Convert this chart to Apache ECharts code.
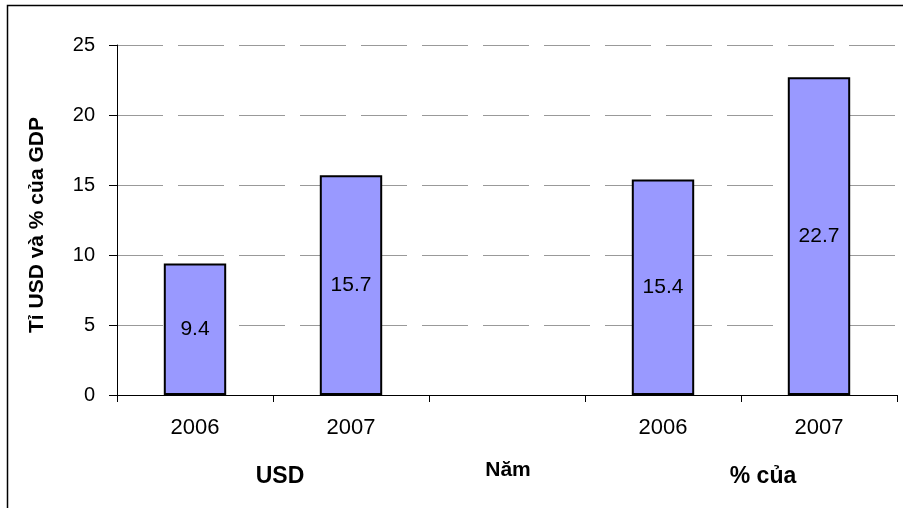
<!DOCTYPE html>
<html>
<head>
<meta charset="utf-8">
<script src="https://cdn.jsdelivr.net/npm/echarts@6/dist/echarts.min.js"></script>
<style>
  html, body { margin: 0; padding: 0; background: #fff; }
  #chart { width: 903px; height: 508px; }
</style>
</head>
<body>
<div id="chart"></div>
<script>
// categories: two USD years, a gap slot, two % of GDP years
const categories = ['2006', '2007', '', '2006', '2007'];
const values = [9.4, 15.7, null, 15.4, 22.7];
const groupLabels = ['USD', 'Năm', '% của'];
const yTicks = [0, 5, 10, 15, 20, 25];
const yName = 'Tỉ USD và % của GDP';

const chart = echarts.init(document.getElementById('chart'));

const font = '"Liberation Sans", Arial, sans-serif';

chart.setOption({
  animation: false,
  grid: { left: 117, right: 6, top: 45, bottom: 113 },
  graphic: [
    {
      type: 'rect',
      shape: { x: 7.5, y: 5.5, width: 1000, height: 1000 },
      style: { fill: 'none', stroke: '#000', lineWidth: 1.5 },
      silent: true
    },
    {
      type: 'text', x: 37, y: 333, rotation: Math.PI / 2,
      style: { text: yName, font: 'bold 21px ' + font, fill: '#000', textAlign: 'left', textVerticalAlign: 'middle' }
    },
    {
      type: 'text', x: 280, y: 477,
      style: { text: groupLabels[0], font: 'bold 23px ' + font, fill: '#000', textAlign: 'center', textVerticalAlign: 'middle' }
    },
    {
      type: 'text', x: 508, y: 470,
      style: { text: groupLabels[1], font: 'bold 21px ' + font, fill: '#000', textAlign: 'center', textVerticalAlign: 'middle' }
    },
    {
      type: 'text', x: 763, y: 477,
      style: { text: groupLabels[2], font: 'bold 23px ' + font, fill: '#000', textAlign: 'center', textVerticalAlign: 'middle' }
    }
  ],
  xAxis: {
    type: 'category',
    data: categories,
    axisLine: { lineStyle: { color: '#000', width: 1 } },
    axisTick: { show: true, length: 7, lineStyle: { color: '#000' } },
    axisLabel: { fontSize: 22, color: '#000', fontFamily: font, margin: 22 },
    splitLine: { show: false }
  },
  yAxis: {
    type: 'value',
    min: 0,
    max: 25,
    interval: 5,
    axisLine: { show: true, lineStyle: { color: '#000', width: 1 } },
    axisTick: { show: true, length: 8, inside: false, lineStyle: { color: '#000' } },
    axisLabel: {
      fontSize: 20, color: '#000', fontFamily: font, margin: 22,
      formatter: v => yTicks.includes(v) ? String(v) : ''
    },
    splitLine: { show: true, lineStyle: { color: '#999', width: 1, type: [46, 15] } }
  },
  series: [{
    type: 'bar',
    data: values,
    barWidth: '40%',
    itemStyle: { color: '#9999FF', borderColor: '#000', borderWidth: 2 },
    label: {
      show: true,
      position: 'inside',
      fontSize: 21,
      color: '#000',
      fontFamily: font
    }
  }]
});
</script>
</body>
</html>
